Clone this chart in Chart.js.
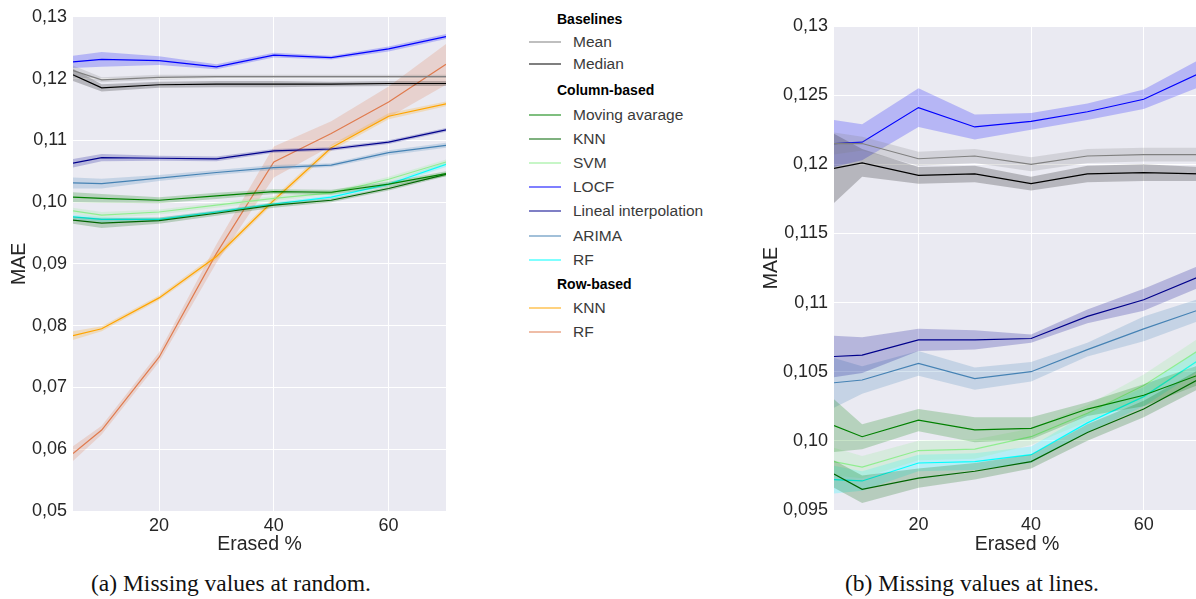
<!DOCTYPE html>
<html>
<head>
<meta charset="utf-8">
<script src="https://cdn.jsdelivr.net/npm/chart.js@4.4.1/dist/chart.umd.min.js"></script>
<style>
  body { margin: 0; width: 1196px; height: 599px; overflow: hidden; background: #fff; position: relative; font-family: 'Liberation Sans', Arial, sans-serif; }
  #leftCanvas { position: absolute; left: 0; top: 0; }
  #rightCanvas { position: absolute; left: 760px; top: 0; }
  .caption { position: absolute; top: 569px; width: 400px; text-align: center; line-height: 28px; font-family: 'Liberation Serif', 'Times New Roman', serif; font-size: 23.5px; color: #111; }
  #legend { position: absolute; left: 529px; top: 7.2px; }
  .row { height: 24.2px; display: flex; align-items: center; white-space: nowrap; }
  .g0 .item { height: 21.5px; }
  .g1 .head { margin-top: 4px; }
  .head { padding-left: 28px; font-weight: bold; font-size: 14px; color: #000; }
  .sample { display: inline-block; width: 32px; height: 0; border-top: 2px solid; opacity: 0.5; margin-right: 12px; }
  .lab { font-size: 15.5px; color: #3a3a3a; }
</style>
</head>
<body>
<canvas id="leftCanvas" width="460" height="560"></canvas>
<canvas id="rightCanvas" width="440" height="560"></canvas>
<div id="legend"></div>
<div class="caption" style="left:31px">(a) Missing values at random.</div>
<div class="caption" style="left:772px">(b) Missing values at lines.</div>
<script>
// x values (erased %) and ticks
const erased = [5, 10, 20, 30, 40, 50, 60, 70];
const xTicks = [20, 40, 60];
const yTicksRandom = [0.05, 0.06, 0.07, 0.08, 0.09, 0.10, 0.11, 0.12, 0.13];
const yTicksLines = [0.095, 0.10, 0.105, 0.11, 0.115, 0.12, 0.125, 0.13];

// (a) missing values at random: mean MAE and half width of the band
const randMean = [0.1213, 0.1198, 0.1202, 0.1203, 0.1203, 0.1203, 0.1203, 0.1203];
const randMeanErr = [0.0008, 0.0004, 0.0004, 0.0003, 0.0003, 0.0003, 0.0003, 0.0003];
const randMedian = [0.1206, 0.1185, 0.1190, 0.1191, 0.1191, 0.1191, 0.1192, 0.1192];
const randMedianErr = [0.0010, 0.0006, 0.0005, 0.0005, 0.0005, 0.0004, 0.0004, 0.0004];
const randMovAvg = [0.1008, 0.1006, 0.1003, 0.1010, 0.1017, 0.1016, 0.1029, 0.1046];
const randMovAvgErr = [0.0008, 0.0007, 0.0005, 0.0005, 0.0004, 0.0004, 0.0004, 0.0004];
const randKnnCol = [0.0971, 0.0966, 0.0970, 0.0982, 0.0995, 0.1003, 0.1022, 0.1045];
const randKnnColErr = [0.0006, 0.0008, 0.0005, 0.0004, 0.0004, 0.0003, 0.0003, 0.0003];
const randSvm = [0.0986, 0.0979, 0.0984, 0.0995, 0.1006, 0.1015, 0.1037, 0.1065];
const randSvmErr = [0.0005, 0.0005, 0.0004, 0.0004, 0.0004, 0.0003, 0.0004, 0.0004];
const randLocf = [0.1227, 0.1231, 0.1229, 0.1219, 0.1238, 0.1234, 0.1248, 0.1268];
const randLocfErr = [0.0010, 0.0012, 0.0007, 0.0004, 0.0004, 0.0003, 0.0004, 0.0004];
const randLineal = [0.1063, 0.1072, 0.1071, 0.1070, 0.1083, 0.1086, 0.1097, 0.1117];
const randLinealErr = [0.0007, 0.0006, 0.0004, 0.0004, 0.0003, 0.0003, 0.0003, 0.0003];
const randArima = [0.1031, 0.1030, 0.1039, 0.1048, 0.1056, 0.1060, 0.1080, 0.1092];
const randArimaErr = [0.0009, 0.0008, 0.0005, 0.0004, 0.0004, 0.0003, 0.0004, 0.0004];
const randRfCol = [0.0976, 0.0972, 0.0972, 0.0984, 0.0997, 0.1008, 0.1029, 0.1061];
const randRfColErr = [0.0004, 0.0004, 0.0003, 0.0003, 0.0003, 0.0003, 0.0003, 0.0004];
const randKnnRow = [0.0784, 0.0795, 0.0845, 0.0912, 0.1003, 0.1088, 0.1139, 0.1159];
const randKnnRowErr = [0.0007, 0.0004, 0.0004, 0.0005, 0.0005, 0.0005, 0.0005, 0.0004];
const randRfRow = [0.0593, 0.0631, 0.0749, 0.0917, 0.1065, 0.1111, 0.1162, 0.1223];
const randRfRowErr = [0.0012, 0.0007, 0.0008, 0.0015, 0.0025, 0.0020, 0.0025, 0.0033];

// (b) missing values at lines
const lineMean = [0.1215, 0.1215, 0.1204, 0.1206, 0.1200, 0.1206, 0.1207, 0.1207];
const lineMeanErr = [0.0008, 0.0005, 0.0005, 0.0005, 0.0005, 0.0005, 0.0005, 0.0005];
const lineMedian = [0.1197, 0.1201, 0.1192, 0.1193, 0.1186, 0.1193, 0.1194, 0.1193];
const lineMedianErr = [0.0025, 0.0010, 0.0006, 0.0006, 0.0005, 0.0006, 0.0006, 0.0005];
const lineMovAvg = [0.1011, 0.1003, 0.1015, 0.1008, 0.1009, 0.1023, 0.1033, 0.1048];
const lineMovAvgErr = [0.0019, 0.0009, 0.0008, 0.0009, 0.0008, 0.0005, 0.0008, 0.0007];
const lineKnnCol = [0.0976, 0.0965, 0.0973, 0.0978, 0.0985, 0.1006, 0.1023, 0.1045];
const lineKnnColErr = [0.0010, 0.0010, 0.0007, 0.0006, 0.0005, 0.0006, 0.0006, 0.0007];
const lineSvm = [0.0985, 0.0981, 0.0993, 0.0994, 0.1003, 0.1020, 0.1040, 0.1066];
const lineSvmErr = [0.0010, 0.0008, 0.0007, 0.0007, 0.0006, 0.0006, 0.0008, 0.0009];
const lineLocf = [0.1215, 0.1216, 0.1241, 0.1227, 0.1231, 0.1238, 0.1247, 0.1266];
const lineLocfErr = [0.0017, 0.0013, 0.0014, 0.0009, 0.0006, 0.0006, 0.0007, 0.0010];
const lineLineal = [0.1061, 0.1062, 0.1073, 0.1073, 0.1074, 0.1090, 0.1102, 0.1119];
const lineLinealErr = [0.0015, 0.0013, 0.0008, 0.0007, 0.0003, 0.0005, 0.0008, 0.0008];
const lineArima = [0.1042, 0.1044, 0.1056, 0.1045, 0.1050, 0.1066, 0.1081, 0.1095];
const lineArimaErr = [0.0018, 0.0010, 0.0009, 0.0008, 0.0007, 0.0005, 0.0009, 0.0008];
const lineRfCol = [0.0972, 0.0971, 0.0984, 0.0985, 0.0990, 0.1013, 0.1032, 0.1059];
const lineRfColErr = [0.0010, 0.0007, 0.0006, 0.0006, 0.0006, 0.0007, 0.0007, 0.0008];

// legend groups
const legendGroups = [
  { title: 'Baselines', items: [['Mean', '#808080'], ['Median', '#000000']] },
  { title: 'Column-based', items: [['Moving avarage', '#008000'], ['KNN', '#006400'], ['SVM', '#90ee90'],
      ['LOCF', '#0000ff'], ['Lineal interpolation', '#00008b'], ['ARIMA', '#4682b4'], ['RF', '#00ffff']] },
  { title: 'Row-based', items: [['KNN', '#ffa500'], ['RF', '#e07b4f']] }
];

function rgba(hex, a) {
  const n = parseInt(hex.slice(1), 16);
  return `rgba(${(n >> 16) & 255}, ${(n >> 8) & 255}, ${n & 255}, ${a})`;
}

function bandSets(values, errs, color) {
  const pts = arr => erased.map((x, i) => ({ x: x, y: arr[i] }));
  const lower = values.map((v, i) => v - errs[i]);
  const upper = values.map((v, i) => v + errs[i]);
  return [
    { data: pts(lower), borderWidth: 0, pointRadius: 0, fill: false },
    { data: pts(upper), borderWidth: 0, pointRadius: 0, fill: '-1', backgroundColor: rgba(color, 0.22) },
    { data: pts(values), borderColor: color, borderWidth: 1.2, pointRadius: 0, fill: false }
  ];
}

const fmt = v => {
  let s = v.toFixed(3);
  if (s.endsWith('0')) s = s.slice(0, -1);
  return s.replace('.', ',');
};

const plotBg = {
  id: 'plotBg',
  beforeDraw(chart) {
    const a = chart.chartArea;
    chart.ctx.save();
    chart.ctx.fillStyle = '#eaeaf2';
    chart.ctx.fillRect(a.left, a.top, a.right - a.left, a.bottom - a.top);
    chart.ctx.restore();
  }
};

function makeChart(canvas, datasets, yMin, yMax, yTicks, pad, yWidth, xHeight, titlePad) {
  return new Chart(canvas, {
    type: 'line',
    data: { datasets: datasets },
    options: {
      responsive: false,
      animation: false,
      layout: { padding: pad },
      plugins: { legend: { display: false }, tooltip: { enabled: false } },
      scales: {
        x: {
          type: 'linear', min: 5, max: 70,
          afterBuildTicks: s => { s.ticks = xTicks.map(v => ({ value: v })); },
          afterFit: s => { s.height = xHeight; },
          grid: { color: '#ffffff', lineWidth: 1, drawTicks: false },
          border: { display: false },
          ticks: { padding: 4, color: '#262626', font: { size: 18, family: 'Liberation Sans' } },
          title: { display: true, text: 'Erased %', color: '#262626', padding: { top: 0, bottom: 4 },
                   font: { size: 19.5, family: 'Liberation Sans' } }
        },
        y: {
          min: yMin, max: yMax,
          afterBuildTicks: s => { s.ticks = yTicks.map(v => ({ value: v })); },
          afterFit: s => { s.width = yWidth; },
          grid: { color: '#ffffff', lineWidth: 1, drawTicks: false },
          border: { display: false },
          ticks: { padding: 6, autoSkip: false, color: '#262626', callback: v => fmt(v),
                   font: { size: 18, family: 'Liberation Sans' } },
          title: { display: true, text: 'MAE', color: '#262626', padding: { top: titlePad, bottom: 0 },
                   font: { size: 19.5, family: 'Liberation Sans' } }
        }
      }
    },
    plugins: [plotBg]
  });
}

const randomSets = [].concat(
  bandSets(randMean, randMeanErr, '#808080'),
  bandSets(randMedian, randMedianErr, '#000000'),
  bandSets(randMovAvg, randMovAvgErr, '#008000'),
  bandSets(randKnnCol, randKnnColErr, '#006400'),
  bandSets(randSvm, randSvmErr, '#90ee90'),
  bandSets(randLocf, randLocfErr, '#0000ff'),
  bandSets(randLineal, randLinealErr, '#00008b'),
  bandSets(randArima, randArimaErr, '#4682b4'),
  bandSets(randRfCol, randRfColErr, '#00ffff'),
  bandSets(randKnnRow, randKnnRowErr, '#ffa500'),
  bandSets(randRfRow, randRfRowErr, '#e07b4f')
);

const lineSets = [].concat(
  bandSets(lineMean, lineMeanErr, '#808080'),
  bandSets(lineMedian, lineMedianErr, '#000000'),
  bandSets(lineMovAvg, lineMovAvgErr, '#008000'),
  bandSets(lineKnnCol, lineKnnColErr, '#006400'),
  bandSets(lineSvm, lineSvmErr, '#90ee90'),
  bandSets(lineLocf, lineLocfErr, '#0000ff'),
  bandSets(lineLineal, lineLinealErr, '#00008b'),
  bandSets(lineArima, lineArimaErr, '#4682b4'),
  bandSets(lineRfCol, lineRfColErr, '#00ffff')
);

makeChart(document.getElementById('leftCanvas'), randomSets, 0.05, 0.13, yTicksRandom,
  { top: 16, right: 14, bottom: 0, left: 0 }, 73, 49, 8);
makeChart(document.getElementById('rightCanvas'), lineSets, 0.095, 0.13, yTicksLines,
  { top: 26, right: 0, bottom: 0, left: 0 }, 74, 50, 0);

// legend in the middle
const legend = document.getElementById('legend');
legendGroups.forEach((g, gi) => {
  const box = document.createElement('div');
  box.className = 'g' + gi;
  const h = document.createElement('div');
  h.className = 'row head';
  h.textContent = g.title;
  box.appendChild(h);
  g.items.forEach(([name, color]) => {
    const r = document.createElement('div');
    r.className = 'row item';
    r.innerHTML = `<span class="sample" style="border-color:${color}"></span><span class="lab">${name}</span>`;
    box.appendChild(r);
  });
  legend.appendChild(box);
});
</script>
</body>
</html>
